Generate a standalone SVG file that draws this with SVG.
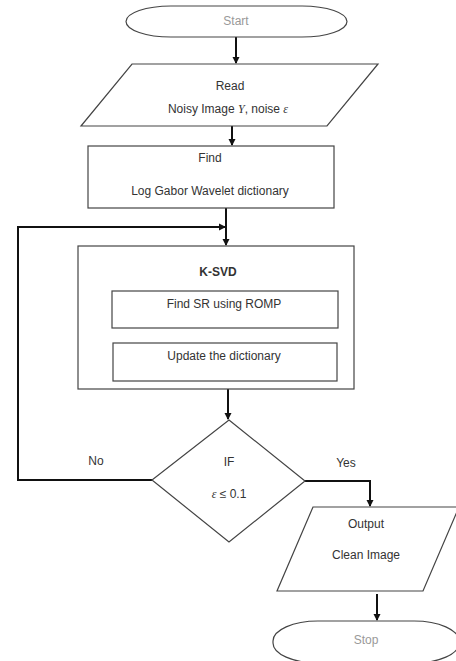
<svg xmlns="http://www.w3.org/2000/svg" width="456" height="661" viewBox="0 0 456 661">
<style>
.shape{fill:#fff;stroke:#444;stroke-width:1.2}
.t{font-family:"Liberation Sans",Arial,sans-serif;font-size:12px;fill:#333;text-anchor:middle;dominant-baseline:middle}
.g{fill:#999}
.b{font-weight:bold}
.c{fill:none;stroke:#111;stroke-width:2}
</style>
<defs>
<marker id="ah" markerWidth="8" markerHeight="8" refX="6" refY="4" orient="auto" markerUnits="userSpaceOnUse">
<path d="M0,0.5 L7,4 L0,7.5 Z" fill="#111"/>
</marker>
</defs>
<rect width="456" height="661" fill="#fff"/>
<g id="connectors">
<line class="c" x1="236" y1="37" x2="236" y2="63" marker-end="url(#ah)"/>
<line class="c" x1="232" y1="126" x2="232" y2="145" marker-end="url(#ah)"/>
<line class="c" x1="226" y1="208" x2="226" y2="245" marker-end="url(#ah)"/>
<polyline class="c" points="152,480 18,480 18,227 225,227" marker-end="url(#ah)"/>
<line class="c" x1="228" y1="389" x2="228" y2="419" marker-end="url(#ah)"/>
<polyline class="c" points="305,481 370,481 370,506" marker-end="url(#ah)"/>
<line class="c" x1="377" y1="594" x2="377" y2="620" marker-end="url(#ah)"/>
</g>
<g id="start">
<rect class="shape" x="126" y="6" width="221" height="31" rx="45" ry="15.5"/>
<text class="t g" x="236" y="22">Start</text>
</g>
<g id="read">
<polygon class="shape" points="132,64 378,64 327,126 81,126"/>
<text class="t" x="230" y="87">Read</text>
<text class="t" x="228" y="110">Noisy Image <tspan font-family="Liberation Serif" font-style="italic">Y</tspan>, noise <tspan font-family="Liberation Serif" font-style="italic">ε</tspan></text>
</g>
<g id="find">
<rect class="shape" x="88" y="146" width="246" height="62"/>
<text class="t" x="210" y="159">Find</text>
<text class="t" x="210" y="192">Log Gabor Wavelet dictionary</text>
</g>
<g id="ksvd">
<rect class="shape" x="78" y="246" width="276" height="143"/>
<text class="t b" x="218" y="273">K-SVD</text>
</g>
<g id="findsr">
<rect class="shape" x="112" y="291" width="226" height="37"/>
<text class="t" x="224" y="305">Find SR using ROMP</text>
</g>
<g id="update">
<rect class="shape" x="113" y="343" width="224" height="38"/>
<text class="t" x="224" y="357">Update the dictionary</text>
</g>
<g id="if">
<polygon class="shape" points="229,420 305,481 229,542 152,480"/>
<text class="t" x="229" y="463">IF</text>
<text class="t" x="229" y="495"><tspan font-family="Liberation Serif" font-style="italic">ε</tspan> ≤ 0.1</text>
</g>
<g id="labels">
<text class="t" x="96" y="462">No</text>
<text class="t" x="346" y="464">Yes</text>
</g>
<g id="output">
<polygon class="shape" points="313,507 459,507 423,591 277,591"/>
<text class="t" x="366" y="525">Output</text>
<text class="t" x="366" y="556">Clean Image</text>
</g>
<g id="stop">
<rect class="shape" x="273" y="621" width="186" height="42" rx="45" ry="20"/>
<text class="t g" x="366" y="641">Stop</text>
</g>
</svg>
